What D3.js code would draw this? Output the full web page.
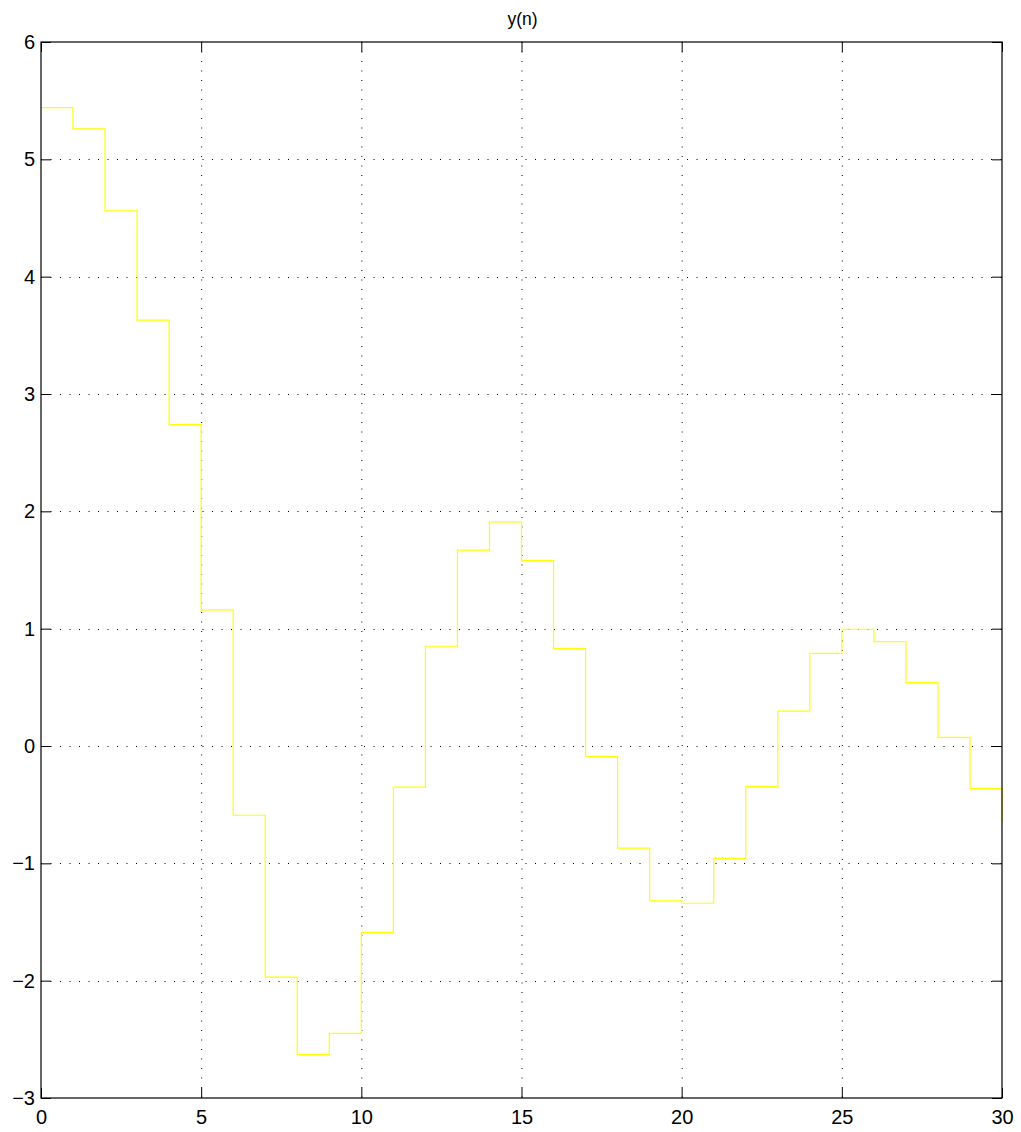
<!DOCTYPE html>
<html><head><meta charset="utf-8">
<script src="https://cdn.jsdelivr.net/npm/d3@7"></script>
<style>body{margin:0;background:#fff}svg{display:block}text{font-family:"Liberation Sans",Arial,sans-serif}</style>
</head><body>
<svg id="c" width="1021" height="1132"></svg>
<script>
const n = d3.range(0, 31);
const yValues = [5.44, 5.26, 4.56, 3.63, 2.74, 1.16, -0.59, -1.97, -2.63, -2.45,
  -1.59, -0.35, 0.85, 1.67, 1.91, 1.58, 0.83, -0.09, -0.87, -1.32,
  -1.34, -0.957, -0.347, 0.298, 0.79, 0.995, 0.89, 0.54, 0.074, -0.364, -0.645];
const xTicks = [0, 5, 10, 15, 20, 25, 30];
const yTicks = [-3, -2, -1, 0, 1, 2, 3, 4, 5, 6];
const title = "y(n)";

const svg = d3.select("#c");
const L = 41, R = 1002, T = 42, B = 1098;
const x = d3.scaleLinear().domain([0, 30]).range([L, R]);
const y = d3.scaleLinear().domain([-3, 6]).range([B, T]);
const fmt = d => d < 0 ? "\u2212" + Math.abs(d) : String(d);

// grid
const g = svg.append("g");
g.selectAll(".gx").data(xTicks.slice(1, -1)).join("line")
  .attr("x1", d => x(d) + 0.5).attr("x2", d => x(d) + 0.5).attr("y1", T).attr("y2", B)
  .attr("stroke", "#000").attr("stroke-width", 1).attr("stroke-dasharray", "1 8.5");
g.selectAll(".gy").data(yTicks.slice(1, -1)).join("line")
  .attr("y1", d => Math.round(y(d)) + 0.5).attr("y2", d => Math.round(y(d)) + 0.5).attr("x1", L).attr("x2", R)
  .attr("stroke", "#000").attr("stroke-width", 1).attr("stroke-dasharray", "1 8.5");

// line
const line = d3.line().x((d, i) => x(n[i])).y(d => y(d)).curve(d3.curveStepAfter);
svg.append("path").datum(yValues).attr("d", line)
  .attr("fill", "none").attr("stroke", "#ffff00").attr("stroke-width", 1.2);

// axes with inward ticks on all sides
const tl = 10;
svg.append("g").attr("transform", `translate(0,${B})`)
  .call(d3.axisBottom(x).tickValues(xTicks).tickSize(-tl).tickPadding(12).tickFormat(fmt))
  .call(a => a.select(".domain").remove());
svg.append("g").attr("transform", `translate(0,${T})`)
  .call(d3.axisTop(x).tickValues(xTicks).tickSize(-tl).tickFormat(""))
  .call(a => a.select(".domain").remove());
svg.append("g").attr("transform", `translate(${L},0)`)
  .call(d3.axisLeft(y).tickValues(yTicks).tickSize(-tl).tickPadding(6).tickFormat(fmt))
  .call(a => a.select(".domain").remove());
svg.append("g").attr("transform", `translate(${R},0)`)
  .call(d3.axisRight(y).tickValues(yTicks).tickSize(-tl).tickFormat(""))
  .call(a => a.select(".domain").remove());
svg.selectAll(".tick line").attr("stroke", "#000");
svg.selectAll(".tick text").attr("font-size", 20).attr("fill", "#000")
  .style("font-family", '"Liberation Sans",Arial,sans-serif');

// box
svg.append("rect").attr("x", L).attr("y", T).attr("width", R - L).attr("height", B - T)
  .attr("fill", "none").attr("stroke", "#000").attr("stroke-width", 1.2);

svg.append("text").attr("x", (L + R) / 2 + 1).attr("y", 24.5).attr("text-anchor", "middle")
  .attr("font-size", 17.5).text(title);
</script>
</body></html>
